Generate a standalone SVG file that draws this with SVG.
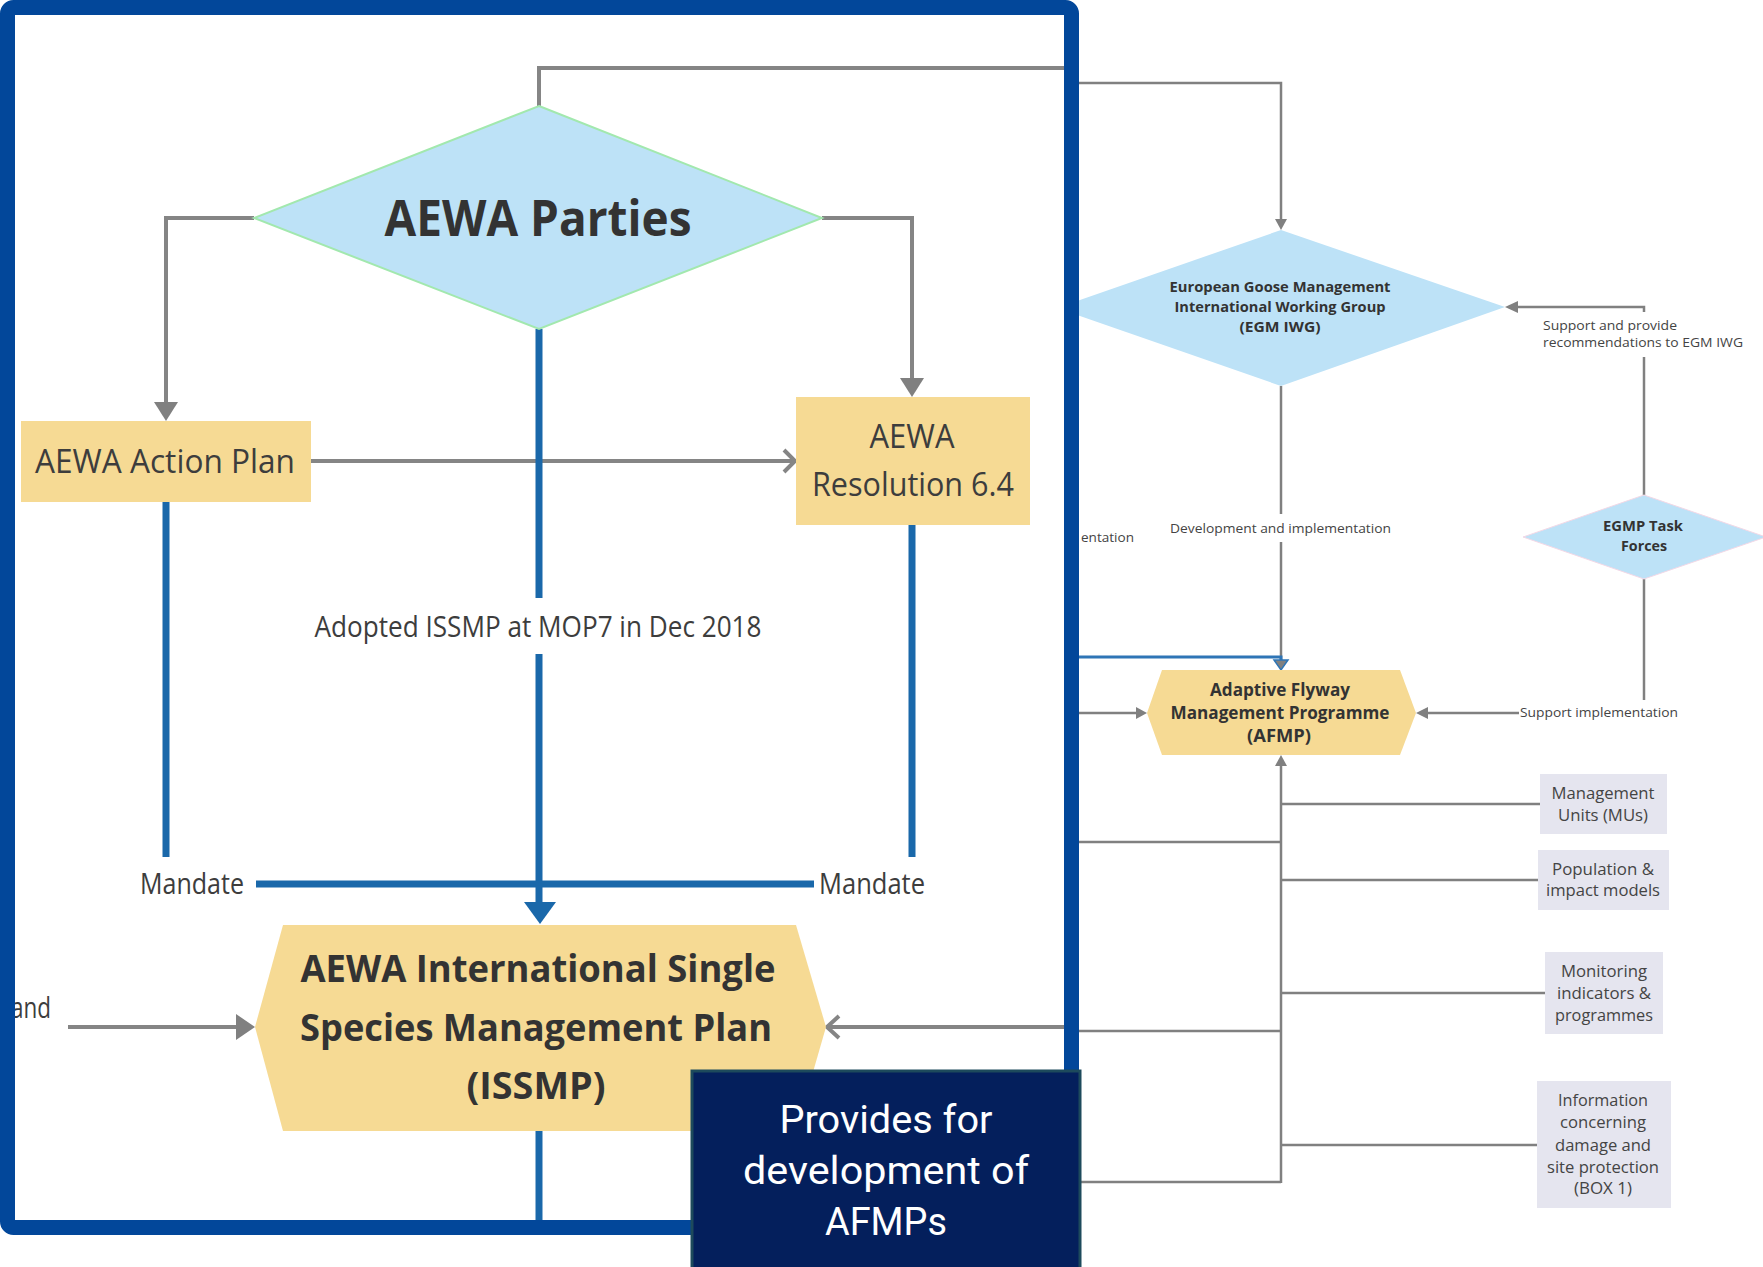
<svg xmlns="http://www.w3.org/2000/svg" width="1763" height="1267" viewBox="0 0 1763 1267">
<style>
.g{fill:none;stroke:#808080;stroke-width:2.5}
.gt{fill:none;stroke:#858585;stroke-width:4}
.b{fill:none;stroke:#1a68aa;stroke-width:7}
.ah{fill:#808080}
.dia{fill:#BDE2F7}
.yel{fill:#F6DA94}
.box{fill:#E5E5EF}
text{font-family:"Open Sans","Noto Sans","Liberation Sans",sans-serif}
.bold{font-weight:bold;fill:#333333}
.lab{fill:#3d3d3d}
.rt{font-family:"Open Sans","Noto Sans",sans-serif;fill:#444444}
.nv{font-family:Roboto,"Noto Sans",sans-serif;fill:#ffffff;font-size:38px}
</style>
<rect x="0" y="0" width="1763" height="1267" fill="#ffffff"/>

<!-- right-hand diagram connectors -->
<g id="connectors-right">
  <polyline class="g" points="1070,83 1281,83 1281,221"/>
  <polygon class="ah" points="1275,219 1287,219 1281,230"/>
  <line class="g" x1="1281" y1="386" x2="1281" y2="514"/>
  <line class="g" x1="1281" y1="542" x2="1281" y2="661"/>
  <polyline fill="none" stroke="#2E75B6" stroke-width="3" points="1070,657 1281,657 1281,662"/>
  <polygon fill="#808080" stroke="#2E75B6" stroke-width="1.5" points="1274,660 1288,660 1281,670"/>
  <line class="g" x1="1070" y1="713" x2="1138" y2="713"/>
  <polygon class="ah" points="1136,707 1136,719 1147,713"/>
  <line class="g" x1="1644" y1="357" x2="1644" y2="495"/>
  <polyline class="g" points="1644,312 1644,307 1516,307"/>
  <polygon class="ah" points="1518,301 1518,313 1505,307"/>
  <line class="g" x1="1644" y1="579" x2="1644" y2="700"/>
  <line class="g" x1="1519" y1="713" x2="1427" y2="713"/>
  <polygon class="ah" points="1428,707 1428,719 1416,713"/>
  <line class="g" x1="1281" y1="1183" x2="1281" y2="764"/>
  <polygon class="ah" points="1275,766 1287,766 1281,755"/>
  <line class="g" x1="1281" y1="804" x2="1540" y2="804"/>
  <line class="g" x1="1281" y1="880" x2="1538" y2="880"/>
  <line class="g" x1="1281" y1="993" x2="1545" y2="993"/>
  <line class="g" x1="1281" y1="1145" x2="1537" y2="1145"/>
  <line class="g" x1="1070" y1="842" x2="1281" y2="842"/>
  <line class="g" x1="1070" y1="1031" x2="1281" y2="1031"/>
  <line class="g" x1="1070" y1="1182" x2="1281" y2="1182"/>
</g>
<g id="labels-right">
  <text class="rt" x="1543" y="330" font-size="13.5" textLength="134" lengthAdjust="spacingAndGlyphs">Support and provide</text>
  <text class="rt" x="1543" y="347" font-size="13.5" textLength="200" lengthAdjust="spacingAndGlyphs">recommendations to EGM IWG</text>
  <text class="rt" x="1170" y="533" font-size="13.5" textLength="221" lengthAdjust="spacingAndGlyphs">Development and implementation</text>
  <text class="rt" x="1081" y="542" font-size="13.5" textLength="53" lengthAdjust="spacingAndGlyphs">entation</text>
  <text class="rt" x="1520" y="717" font-size="13.5" textLength="158" lengthAdjust="spacingAndGlyphs">Support implementation</text>
</g>

<g id="node-egm-iwg">
  <polygon class="dia" points="1281,230 1505,307 1281,386 1057,308"/>
  <text class="bold" x="1280" y="292" font-size="14.5" text-anchor="middle" textLength="221" lengthAdjust="spacingAndGlyphs">European Goose Management</text>
  <text class="bold" x="1280" y="312" font-size="14.5" text-anchor="middle" textLength="211" lengthAdjust="spacingAndGlyphs">International Working Group</text>
  <text class="bold" x="1280" y="332" font-size="14.5" text-anchor="middle" textLength="81" lengthAdjust="spacingAndGlyphs">(EGM IWG)</text>
</g>
<g id="node-task-forces">
  <polygon class="dia" stroke="#F2D8E6" stroke-width="1" points="1644,495 1766,537 1644,579 1523,537"/>
  <text class="bold" x="1643" y="531" font-size="14.5" text-anchor="middle" textLength="80" lengthAdjust="spacingAndGlyphs">EGMP Task</text>
  <text class="bold" x="1644" y="551" font-size="14.5" text-anchor="middle" textLength="46" lengthAdjust="spacingAndGlyphs">Forces</text>
</g>
<g id="node-afmp">
  <polygon class="yel" points="1162,670 1400,670 1416,713 1400,755 1162,755 1147,713"/>
  <text class="bold" x="1280" y="696" font-size="17" text-anchor="middle" textLength="140" lengthAdjust="spacingAndGlyphs">Adaptive Flyway</text>
  <text class="bold" x="1280" y="719" font-size="17" text-anchor="middle" textLength="219" lengthAdjust="spacingAndGlyphs">Management Programme</text>
  <text class="bold" x="1279" y="742" font-size="17" text-anchor="middle" textLength="64" lengthAdjust="spacingAndGlyphs">(AFMP)</text>
</g>
<g id="node-mus">
  <rect class="box" x="1540" y="774" width="127" height="60"/>
  <text class="rt" x="1603" y="799" font-size="16" text-anchor="middle" textLength="103" lengthAdjust="spacingAndGlyphs">Management</text>
  <text class="rt" x="1603" y="821" font-size="16" text-anchor="middle" textLength="90" lengthAdjust="spacingAndGlyphs">Units (MUs)</text>
</g>
<g id="node-models">
  <rect class="box" x="1538" y="850" width="131" height="60"/>
  <text class="rt" x="1603" y="875" font-size="16" text-anchor="middle" textLength="102" lengthAdjust="spacingAndGlyphs">Population &amp;</text>
  <text class="rt" x="1603" y="896" font-size="16" text-anchor="middle" textLength="114" lengthAdjust="spacingAndGlyphs">impact models</text>
</g>
<g id="node-monitoring">
  <rect class="box" x="1545" y="952" width="118" height="82"/>
  <text class="rt" x="1604" y="977" font-size="16" text-anchor="middle" textLength="86" lengthAdjust="spacingAndGlyphs">Monitoring</text>
  <text class="rt" x="1604" y="999" font-size="16" text-anchor="middle" textLength="94" lengthAdjust="spacingAndGlyphs">indicators &amp;</text>
  <text class="rt" x="1604" y="1021" font-size="16" text-anchor="middle" textLength="98" lengthAdjust="spacingAndGlyphs">programmes</text>
</g>
<g id="node-info">
  <rect class="box" x="1537" y="1081" width="134" height="127"/>
  <text class="rt" x="1603" y="1106" font-size="16" text-anchor="middle" textLength="90" lengthAdjust="spacingAndGlyphs">Information</text>
  <text class="rt" x="1603" y="1128" font-size="16" text-anchor="middle" textLength="86" lengthAdjust="spacingAndGlyphs">concerning</text>
  <text class="rt" x="1603" y="1151" font-size="16" text-anchor="middle" textLength="96" lengthAdjust="spacingAndGlyphs">damage and</text>
  <text class="rt" x="1603" y="1173" font-size="16" text-anchor="middle" textLength="112" lengthAdjust="spacingAndGlyphs">site protection</text>
  <text class="rt" x="1603" y="1194" font-size="16" text-anchor="middle" textLength="58" lengthAdjust="spacingAndGlyphs">(BOX 1)</text>
</g>

<!-- left panel -->
<rect x="0" y="0" width="1072" height="1228" fill="#ffffff"/>
<g id="connectors-left">
  <polyline class="gt" points="539,106 539,68 1066,68"/>
  <polyline class="gt" points="254,218 166,218 166,404"/>
  <polygon class="ah" points="154,402 178,402 166,421"/>
  <polyline class="gt" points="822,218 912,218 912,380"/>
  <polygon class="ah" points="900,378 924,378 912,397"/>
  <line class="gt" x1="311" y1="461" x2="794" y2="461"/>
  <polyline class="gt" points="784,450 795,461 784,472"/>
  <line class="b" x1="539" y1="329" x2="539" y2="598"/>
  <line class="b" x1="539" y1="654" x2="539" y2="904"/>
  <polygon fill="#1a68aa" points="524,902 556,902 540,924"/>
  <line class="b" x1="166" y1="502" x2="166" y2="857"/>
  <line class="b" x1="912" y1="525" x2="912" y2="857"/>
  <line class="b" stroke-width="8" x1="256" y1="884" x2="814" y2="884"/>
  <line class="b" x1="539" y1="1131" x2="539" y2="1222"/>
  <line class="gt" x1="68" y1="1027" x2="238" y2="1027"/>
  <polygon class="ah" points="236,1014 236,1040 255,1027"/>
  <line class="gt" x1="827" y1="1027" x2="1066" y2="1027"/>
  <polyline class="gt" points="839,1016 827,1027 839,1038"/>
</g>
<g id="labels-left">
  <text class="lab" x="538" y="637" font-size="29" text-anchor="middle" textLength="447" lengthAdjust="spacingAndGlyphs">Adopted ISSMP at MOP7 in Dec 2018</text>
  <text class="lab" x="140" y="894" font-size="29" textLength="104" lengthAdjust="spacingAndGlyphs">Mandate</text>
  <text class="lab" x="819" y="894" font-size="29" textLength="106" lengthAdjust="spacingAndGlyphs">Mandate</text>
  <text class="lab" x="11" y="1018" font-size="29" textLength="40" lengthAdjust="spacingAndGlyphs">and</text>
</g>
<g id="node-aewa-parties">
  <polygon class="dia" stroke="#A2E8AE" stroke-width="2" points="539,106 822,218 539,329 254,218"/>
  <text class="bold" x="538" y="236" font-size="50" text-anchor="middle" textLength="307" lengthAdjust="spacingAndGlyphs">AEWA Parties</text>
</g>
<g id="node-action-plan">
  <rect class="yel" x="21" y="421" width="290" height="81"/>
  <text class="lab" x="165" y="473" font-size="33" text-anchor="middle" textLength="260" lengthAdjust="spacingAndGlyphs">AEWA Action Plan</text>
</g>
<g id="node-resolution">
  <rect class="yel" x="796" y="397" width="234" height="128"/>
  <text class="lab" x="912" y="448" font-size="33" text-anchor="middle" textLength="85" lengthAdjust="spacingAndGlyphs">AEWA</text>
  <text class="lab" x="913" y="496" font-size="33" text-anchor="middle" textLength="202" lengthAdjust="spacingAndGlyphs">Resolution 6.4</text>
</g>
<g id="node-issmp">
  <polygon class="yel" points="283,925 796,925 826,1027 796,1131 283,1131 255,1027"/>
  <text class="bold" x="538" y="982" font-size="38" text-anchor="middle" textLength="475" lengthAdjust="spacingAndGlyphs">AEWA International Single</text>
  <text class="bold" x="536" y="1041" font-size="38" text-anchor="middle" textLength="472" lengthAdjust="spacingAndGlyphs">Species Management Plan</text>
  <text class="bold" x="536" y="1099" font-size="38" text-anchor="middle" textLength="139" lengthAdjust="spacingAndGlyphs">(ISSMP)</text>
</g>
<rect id="frame" x="7.5" y="7.5" width="1064" height="1220" rx="6" fill="none" stroke="#02479A" stroke-width="15"/>

<g id="node-provides">
  <rect x="692" y="1071" width="388" height="210" fill="#041F5C" stroke="#1D4A5C" stroke-width="3"/>
  <text class="nv" x="886" y="1133" text-anchor="middle" textLength="213" lengthAdjust="spacingAndGlyphs">Provides for</text>
  <text class="nv" x="886" y="1184" text-anchor="middle" textLength="286" lengthAdjust="spacingAndGlyphs">development of</text>
  <text class="nv" x="886" y="1235" text-anchor="middle" textLength="122" lengthAdjust="spacingAndGlyphs">AFMPs</text>
</g>
</svg>
